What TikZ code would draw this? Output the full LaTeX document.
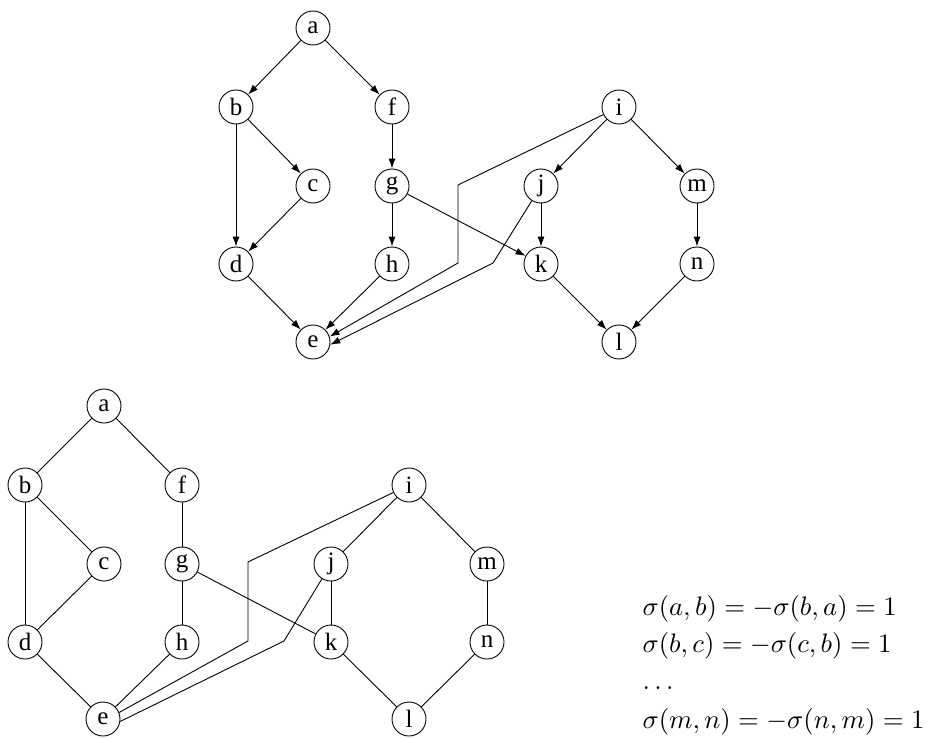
\documentclass[tikz,border=0pt]{standalone}
\usepackage[no-math]{fontspec}
\newfontfamily\nodefont{Liberation Serif}
\usetikzlibrary{arrows.meta}
\begin{document}
\begin{tikzpicture}[x=1pt,y=-1pt,
  vtx/.style={circle,draw,line width=0.9pt,minimum size=34pt,inner sep=0pt,font=\nodefont\fontsize{25}{28}\selectfont},
  arr/.style={line width=0.9pt,-{Latex[length=10pt,width=7pt]}},
  ln/.style={line width=0.9pt},
  eqn/.style={anchor=base west,inner sep=0pt,scale=2.67,transform shape}]
\useasboundingbox (0,0) rectangle (928,738);
% top graph
\node[vtx] (ta) at (313,28) {a};
\node[vtx] (tb) at (236,107) {b};
\node[vtx] (tf) at (392,107) {f};
\node[vtx] (ti) at (619,107) {i};
\node[vtx] (tc) at (313,186) {c};
\node[vtx] (tg) at (392,186) {g};
\node[vtx] (tj) at (541,186) {j};
\node[vtx] (tm) at (697,186) {m};
\node[vtx] (td) at (236,264) {d};
\node[vtx] (th) at (392,264) {h};
\node[vtx] (tk) at (541,264) {k};
\node[vtx] (tn) at (697,264) {n};
\node[vtx] (te) at (313,342) {e};
\node[vtx] (tl) at (619,342) {l};
\coordinate (tp1) at (458,185);
\coordinate (tp2) at (458,263);
\coordinate (tq) at (493,263);
\draw[arr] (ta) -- (tb);
\draw[arr] (ta) -- (tf);
\draw[arr] (tb) -- (tc);
\draw[arr] (tb) -- (td);
\draw[arr] (tc) -- (td);
\draw[arr] (tf) -- (tg);
\draw[arr] (tg) -- (th);
\draw[arr] (tg) -- (tk);
\draw[arr] (td) -- (te);
\draw[arr] (th) -- (te);
\draw[arr] (ti) -- (tj);
\draw[arr] (ti) -- (tm);
\draw[arr] (tj) -- (tk);
\draw[arr] (tm) -- (tn);
\draw[arr] (tk) -- (tl);
\draw[arr] (tn) -- (tl);
\draw[arr] (ti) -- (tp1) -- (tp2) -- (te.18);
\draw[arr] (tj) -- (tq) -- (te.-9);
% bottom graph
\node[vtx] (ba) at (104,406) {a};
\node[vtx] (bb) at (25,485) {b};
\node[vtx] (bf) at (182,485) {f};
\node[vtx] (bi) at (409,485) {i};
\node[vtx] (bc) at (104,564) {c};
\node[vtx] (bg) at (182,564) {g};
\node[vtx] (bj) at (331,564) {j};
\node[vtx] (bm) at (487,564) {m};
\node[vtx] (bd) at (25,642) {d};
\node[vtx] (bh) at (182,642) {h};
\node[vtx] (bk) at (331,642) {k};
\node[vtx] (bn) at (487,642) {n};
\node[vtx] (be) at (103,719) {e};
\node[vtx] (bl) at (409,719) {l};
\coordinate (bp1) at (248,562);
\coordinate (bp2) at (248,641);
\coordinate (bq) at (284,641);
\draw[ln] (ba) -- (bb);
\draw[ln] (ba) -- (bf);
\draw[ln] (bb) -- (bc);
\draw[ln] (bb) -- (bd);
\draw[ln] (bc) -- (bd);
\draw[ln] (bf) -- (bg);
\draw[ln] (bg) -- (bh);
\draw[ln] (bg) -- (bk);
\draw[ln] (bd) -- (be);
\draw[ln] (bh) -- (be);
\draw[ln] (bi) -- (bj);
\draw[ln] (bi) -- (bm);
\draw[ln] (bj) -- (bk);
\draw[ln] (bm) -- (bn);
\draw[ln] (bk) -- (bl);
\draw[ln] (bn) -- (bl);
\draw[ln] (bi) -- (bp1) -- (bp2) -- (be.22);
\draw[ln] (bj) -- (bq) -- (be.-8);
% equations
\node[eqn] (eq1) at (642,615) {$\sigma(a,b) = -\sigma(b,a) = 1$};
\node[eqn] (eq2) at (642,652) {$\sigma(b,c) = -\sigma(c,b) = 1$};
\node[eqn] (eq3) at (642,689) {$\ldots$};
\node[eqn] (eq4) at (642,728) {$\sigma(m,n) = -\sigma(n,m) = 1$};
\end{tikzpicture}
\end{document}
